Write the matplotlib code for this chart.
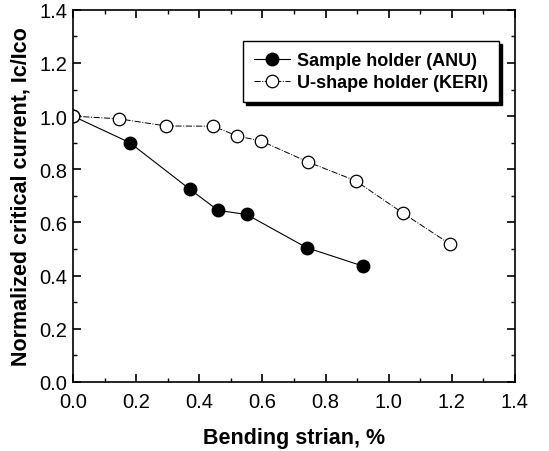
import matplotlib
matplotlib.use("Agg")
import matplotlib.pyplot as plt
from matplotlib.ticker import MultipleLocator

# data
anu_strain = [0.0, 0.18, 0.37, 0.46, 0.55, 0.74, 0.92]
anu_ic = [1.0, 0.90, 0.725, 0.645, 0.63, 0.505, 0.435]

keri_strain = [0.0, 0.145, 0.295, 0.445, 0.52, 0.595, 0.745, 0.895, 1.045, 1.195]
keri_ic = [1.0, 0.99, 0.963, 0.962, 0.925, 0.907, 0.827, 0.757, 0.635, 0.518]

plt.rcParams['font.family'] = ['Liberation Sans', 'DejaVu Sans']

fig = plt.figure(figsize=(5.49, 4.52), dpi=100)
ax = fig.add_axes([0.133, 0.153, 0.805, 0.823])

ax.plot(anu_strain, anu_ic, '-', color='black', lw=0.8, marker='o', ms=9,
        mfc='black', mec='black', label='Sample holder (ANU)')
ax.plot(keri_strain, keri_ic, '-.', color='black', lw=0.7, marker='o', ms=9,
        mfc='white', mec='black', mew=0.9, label='U-shape holder (KERI)')

ax.set_xlim(0, 1.4)
ax.set_ylim(0, 1.4)
ax.xaxis.set_major_locator(MultipleLocator(0.2))
ax.yaxis.set_major_locator(MultipleLocator(0.2))
ax.xaxis.set_minor_locator(MultipleLocator(0.1))
ax.yaxis.set_minor_locator(MultipleLocator(0.1))
ax.tick_params(which='both', direction='in', top=True, right=True, labelsize=14.5)
ax.tick_params(axis='x', pad=7)
ax.tick_params(axis='y', pad=4)
ax.tick_params(which='major', length=6, width=1.2)
ax.tick_params(which='minor', length=3, width=1)
for s in ax.spines.values():
    s.set_linewidth(1.2)

ax.set_xlabel('Bending strian, %', fontsize=15.5, fontweight='bold', labelpad=12)
ax.set_ylabel('Normalized critical current, Ic/Ico', fontsize=15.5, fontweight='bold', labelpad=6)

leg = ax.legend(loc='upper right', bbox_to_anchor=(0.985, 0.94), fancybox=False,
                shadow={'color': 'black', 'alpha': 1}, framealpha=1, edgecolor='black',
                prop={'weight': 'bold', 'size': 13}, handlelength=2.0,
                borderpad=0.6, labelspacing=0.3, handletextpad=0.4)
leg.get_frame().set_linewidth(1.0)

fig.savefig('out.png', dpi=100)
